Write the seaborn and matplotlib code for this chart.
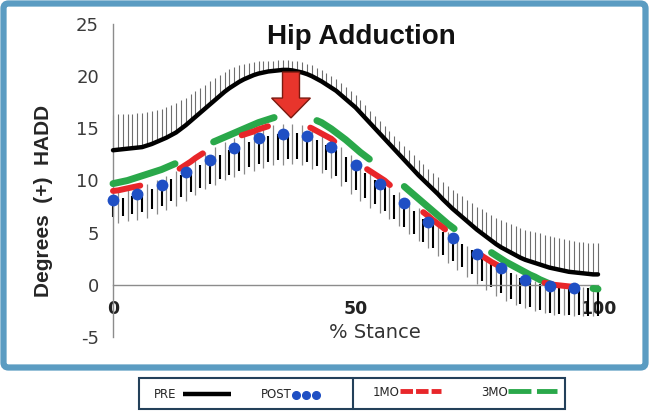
import matplotlib
matplotlib.use("Agg")
import matplotlib.pyplot as plt
import pandas as pd
import seaborn as sns
from matplotlib.patches import FancyArrow, FancyBboxPatch, Rectangle

# % stance, sampled every 1 %
stance = list(range(101))

pre = [12.9, 12.95, 13.0, 13.05, 13.1, 13.15, 13.2, 13.35, 13.5, 13.7,
       13.9, 14.1, 14.35, 14.6, 14.95, 15.3, 15.7, 16.1, 16.5, 16.9,
       17.3, 17.7, 18.1, 18.5, 18.85, 19.15, 19.45, 19.7, 19.9, 20.1,
       20.25, 20.35, 20.45, 20.5, 20.55, 20.6, 20.6, 20.55, 20.45, 20.35,
       20.2, 20.0, 19.75, 19.5, 19.2, 18.9, 18.6, 18.2, 17.8, 17.4,
       17.0, 16.5, 16.0, 15.5, 15.0, 14.5, 14.0, 13.5, 13.0, 12.5,
       12.0, 11.5, 11.0, 10.5, 10.05, 9.6, 9.15, 8.7, 8.2, 7.75,
       7.3, 6.9, 6.5, 6.1, 5.7, 5.3, 4.95, 4.6, 4.25, 3.9,
       3.6, 3.35, 3.1, 2.85, 2.6, 2.4, 2.25, 2.1, 1.95, 1.8,
       1.65, 1.55, 1.45, 1.35, 1.25, 1.2, 1.15, 1.1, 1.05, 1.0, 1.0]
pre_sd = [3.4, 3.4, 3.4, 3.35, 3.3, 3.3, 3.25, 3.2, 3.15, 3.1,
          3.0, 2.95, 2.9, 2.8, 2.75, 2.65, 2.6, 2.5, 2.4, 2.3,
          2.2, 2.1, 2.0, 1.9, 1.8, 1.7, 1.6, 1.5, 1.4, 1.3,
          1.2, 1.1, 1.05, 1.0, 1.0, 0.95, 0.95, 0.95, 1.0, 1.0,
          1.0, 1.05, 1.05, 1.1, 1.1, 1.1, 1.1, 1.15, 1.15, 1.15,
          1.2, 1.2, 1.2, 1.2, 1.2, 1.2, 1.25, 1.25, 1.3, 1.3,
          1.35, 1.4, 1.4, 1.45, 1.5, 1.5, 1.55, 1.6, 1.65, 1.7,
          1.8, 1.9, 2.0, 2.05, 2.1, 2.2, 2.3, 2.35, 2.45, 2.5,
          2.6, 2.65, 2.7, 2.75, 2.8, 2.85, 2.9, 2.95, 3.0, 3.0,
          3.0, 3.0, 3.0, 3.0, 3.0, 3.0, 3.0, 3.0, 3.0, 3.0, 3.0]

post = [8.1, 8.2, 8.3, 8.4, 8.55, 8.7, 8.85, 9.0, 9.2, 9.4,
        9.6, 9.85, 10.1, 10.3, 10.55, 10.8, 11.05, 11.3, 11.5, 11.75,
        12.0, 12.2, 12.45, 12.65, 12.9, 13.1, 13.3, 13.5, 13.7, 13.9,
        14.1, 14.2, 14.3, 14.4, 14.45, 14.5, 14.55, 14.6, 14.55, 14.45,
        14.3, 14.1, 13.9, 13.7, 13.45, 13.2, 12.9, 12.6, 12.3, 11.9,
        11.5, 11.1, 10.7, 10.4, 10.05, 9.7, 9.4, 9.05, 8.6, 8.2,
        7.8, 7.45, 7.1, 6.7, 6.35, 6.0, 5.7, 5.4, 5.1, 4.8,
        4.5, 4.2, 3.9, 3.6, 3.3, 3.0, 2.7, 2.4, 2.15, 1.85,
        1.6, 1.35, 1.1, 0.9, 0.7, 0.5, 0.35, 0.2, 0.1, 0.0,
        -0.1, -0.15, -0.2, -0.25, -0.25, -0.3, -0.3, -0.35, -0.35, -0.4, -0.4]
post_sd = [1.6, 1.65, 1.7, 1.7, 1.75, 1.8, 1.85, 1.9, 1.9, 1.95,
           2.0, 2.0, 2.05, 2.1, 2.1, 2.15, 2.2, 2.2, 2.25, 2.3,
           2.3, 2.3, 2.35, 2.35, 2.4, 2.4, 2.4, 2.45, 2.45, 2.45,
           2.5, 2.5, 2.5, 2.5, 2.5, 2.5, 2.5, 2.5, 2.5, 2.5,
           2.5, 2.5, 2.5, 2.45, 2.45, 2.45, 2.45, 2.4, 2.4, 2.4,
           2.4, 2.4, 2.4, 2.35, 2.35, 2.35, 2.35, 2.3, 2.3, 2.3,
           2.3, 2.3, 2.25, 2.25, 2.25, 2.25, 2.2, 2.2, 2.2, 2.2,
           2.2, 2.2, 2.2, 2.25, 2.25, 2.3, 2.3, 2.3, 2.35, 2.35,
           2.4, 2.4, 2.45, 2.45, 2.5, 2.5, 2.5, 2.55, 2.55, 2.6,
           2.6, 2.6, 2.6, 2.6, 2.6, 2.6, 2.6, 2.6, 2.6, 2.6, 2.6]

mo1 = [9.0, 9.05, 9.15, 9.25, 9.35, 9.45, 9.55, 9.65, 9.8, 10.0,
       10.2, 10.45, 10.7, 10.95, 11.2, 11.5, 11.8, 12.15, 12.45, 12.75,
       13.0, 13.2, 13.45, 13.65, 13.85, 14.05, 14.25, 14.4, 14.55, 14.7,
       14.9, 15.05, 15.2, 15.3, 15.35, 15.4, 15.45, 15.45, 15.4, 15.35,
       15.2, 15.0, 14.75, 14.5, 14.25, 14.0, 13.6, 13.2, 12.8, 12.4,
       12.0, 11.55, 11.2, 10.9, 10.6, 10.3, 10.0, 9.6, 9.2, 8.85,
       8.5, 8.1, 7.7, 7.35, 6.95, 6.6, 6.2, 5.85, 5.5, 5.1,
       4.75, 4.4, 4.05, 3.75, 3.4, 3.1, 2.8, 2.5, 2.2, 1.95,
       1.7, 1.45, 1.25, 1.05, 0.85, 0.7, 0.55, 0.4, 0.3, 0.2,
       0.1, 0.0, -0.05, -0.1, -0.15, -0.2, -0.2, -0.25, -0.25, -0.3, -0.3]
mo1_sd = [3.1, 3.1, 3.1, 3.15, 3.15, 3.2, 3.2, 3.2, 3.25, 3.25,
          3.3, 3.3, 3.35, 3.35, 3.4, 3.45, 3.45, 3.5, 3.5, 3.55,
          3.6, 3.6, 3.65, 3.65, 3.7, 3.7, 3.75, 3.75, 3.8, 3.8,
          3.8, 3.85, 3.85, 3.85, 3.9, 3.9, 3.9, 3.9, 3.9, 3.85,
          3.85, 3.85, 3.8, 3.8, 3.75, 3.75, 3.7, 3.7, 3.65, 3.65,
          3.6, 3.55, 3.5, 3.5, 3.45, 3.4, 3.35, 3.3, 3.3, 3.25,
          3.2, 3.2, 3.15, 3.15, 3.1, 3.1, 3.1, 3.05, 3.05, 3.0,
          3.0, 3.0, 3.0, 3.0, 3.0, 3.0, 3.0, 3.0, 3.0, 3.0,
          3.0, 3.0, 3.0, 2.95, 2.95, 2.95, 2.9, 2.9, 2.9, 2.9,
          2.9, 2.85, 2.85, 2.8, 2.8, 2.8, 2.75, 2.75, 2.75, 2.7, 2.7]

mo3 = [9.7, 9.8, 9.9, 10.0, 10.15, 10.3, 10.45, 10.6, 10.75, 10.9,
       11.05, 11.25, 11.45, 11.65, 11.85, 12.1, 12.4, 12.7, 13.0, 13.3,
       13.55, 13.75, 13.95, 14.15, 14.35, 14.55, 14.75, 14.95, 15.15, 15.35,
       15.55, 15.7, 15.85, 16.0, 16.15, 16.25, 16.35, 16.4, 16.4, 16.3,
       16.15, 15.95, 15.75, 15.55, 15.25, 14.95, 14.6, 14.25, 13.9, 13.5,
       13.1, 12.7, 12.35, 12.0, 11.65, 11.3, 10.95, 10.55, 10.2, 9.85,
       9.45, 9.05, 8.65, 8.25, 7.85, 7.45, 7.05, 6.65, 6.25, 5.85,
       5.5, 5.15, 4.8, 4.5, 4.2, 3.9, 3.6, 3.35, 3.1, 2.8,
       2.5, 2.2, 1.95, 1.7, 1.45, 1.2, 0.95, 0.75, 0.5, 0.3,
       0.1, 0.0, -0.05, -0.1, -0.15, -0.2, -0.2, -0.25, -0.3, -0.35, -0.4]

df = pd.DataFrame({"stance": stance, "pre": pre, "post": post, "mo1": mo1, "mo3": mo3})

sns.set_style("white")
plt.rcParams["lines.scale_dashes"] = False
plt.rcParams["axes.unicode_minus"] = False
plt.rcParams["font.family"] = ["Liberation Sans", "DejaVu Sans"]

W, H = 649, 412
fig = plt.figure(figsize=(W / 100, H / 100), dpi=100)

# background layer in pixel units: frame + legend strip
bg = fig.add_axes([0, 0, 1, 1])
bg.set_xlim(0, W)
bg.set_ylim(H, 0)
bg.axis("off")
bg.add_patch(FancyBboxPatch((3.5, 3.5), 642, 364, boxstyle="round,pad=0,rounding_size=5",
                            fill=False, ec="#5b9cc2", lw=4.5))
bg.add_patch(Rectangle((139, 378), 426, 31, fill=False, ec="#23405a", lw=1.5))
bg.plot([353, 353], [378, 409], color="#23405a", lw=1.5)
leg_font = dict(fontsize=8.5, family="DejaVu Sans", va="center")
bg.text(154, 395, "PRE", **leg_font)
bg.plot([183, 231], [394, 394], color="black", lw=3.2, solid_capstyle="butt")
bg.text(261, 395, "POST", **leg_font)
bg.plot([296, 306, 316], [395, 395, 395], "o", color="#1f4fc4", ms=5.5)
bg.text(373, 392, "1MO", **leg_font)
bg.plot([400, 441], [391, 391], color="#e8262a", lw=3.5, linestyle=(0, (9, 2.2)))
bg.text(481, 392, "3MO", **leg_font)
bg.plot([508, 557], [391, 391], color="#2aa84a", lw=3.5, linestyle=(0, (16.5, 4)))

ax = fig.add_axes([113 / W, 1 - 337 / H, 485 / W, 313 / H])
ax.patch.set_alpha(0)

# error bars: PRE upward, POST and 1MO downward (interleaved)
ax.vlines(stance, pre, [p + s for p, s in zip(pre, pre_sd)],
          color="#6e6e6e", lw=0.8, zorder=1, clip_on=False)
ax.vlines(stance[1::2], [m - s for m, s in zip(mo1[1::2], mo1_sd[1::2])], mo1[1::2],
          color="#8a8a8a", lw=0.9, zorder=1, clip_on=False)
ax.vlines(stance[::2], [p - s for p, s in zip(post[::2], post_sd[::2])], post[::2],
          color="black", lw=1.5, zorder=1, clip_on=False)

sns.lineplot(data=df, x="stance", y="pre", ax=ax, color="black", lw=3.2,
             solid_capstyle="round", zorder=3, clip_on=False)
sns.lineplot(data=df, x="stance", y="mo3", ax=ax, color="#2aa84a", lw=5,
             linestyle=(0, (47, 32)), dash_capstyle="round", zorder=3, clip_on=False)
sns.lineplot(data=df, x="stance", y="mo1", ax=ax, color="#e8262a", lw=4.3,
             linestyle=(0, (20, 31)), dash_capstyle="round", zorder=4, clip_on=False)
ax.plot(df["stance"][:100:5], df["post"][:100:5], "o", color="#1f4fc4",
        ms=8.5, mec="none", zorder=5, clip_on=False)

ax.add_patch(FancyArrow(36.7, 20.4, 0, -4.4, width=3.5, head_width=8.0, head_length=1.9,
                        length_includes_head=True, fc="#e8352c", ec="#7a1a10", lw=1, zorder=6))

ax.set_xlim(0, 100)
ax.set_ylim(-5, 25)
ax.set_yticks(range(-5, 30, 5))
ax.set_xticks([0, 50, 100])
for side in ("top", "right"):
    ax.spines[side].set_visible(False)
ax.spines["bottom"].set_position(("data", 0))
for side in ("left", "bottom"):
    ax.spines[side].set_color("#8c8c8c")
    ax.spines[side].set_linewidth(1.0)
ax.tick_params(axis="y", direction="out", length=4, width=1, color="#8c8c8c",
               labelsize=13, labelcolor="#3a3a3a", pad=6)
ax.tick_params(axis="x", direction="out", length=4, width=1, color="#8c8c8c",
               labelsize=12.5, labelcolor="#222222", pad=7)
for lab in ax.get_yticklabels():
    lab.set_family("DejaVu Sans")
for lab in ax.get_xticklabels():
    lab.set_family("DejaVu Sans")
    lab.set_fontweight("bold")
ax.set_xlabel("")
ax.set_ylabel("")

fig.text(361 / W, 1 - 37 / H, "Hip Adduction", fontsize=20, fontweight="bold",
         ha="center", va="center", color="#111111")
fig.text(375 / W, 1 - 333 / H, "% Stance", fontsize=14, ha="center", va="center",
         color="#333333", family="DejaVu Sans")
fig.text(44 / W, 1 - 201 / H, "Degrees  (+)  HADD", fontsize=15, fontweight="bold",
         rotation=90, ha="center", va="center", family="Liberation Sans")

fig.savefig("out.png", dpi=100, facecolor="white")
